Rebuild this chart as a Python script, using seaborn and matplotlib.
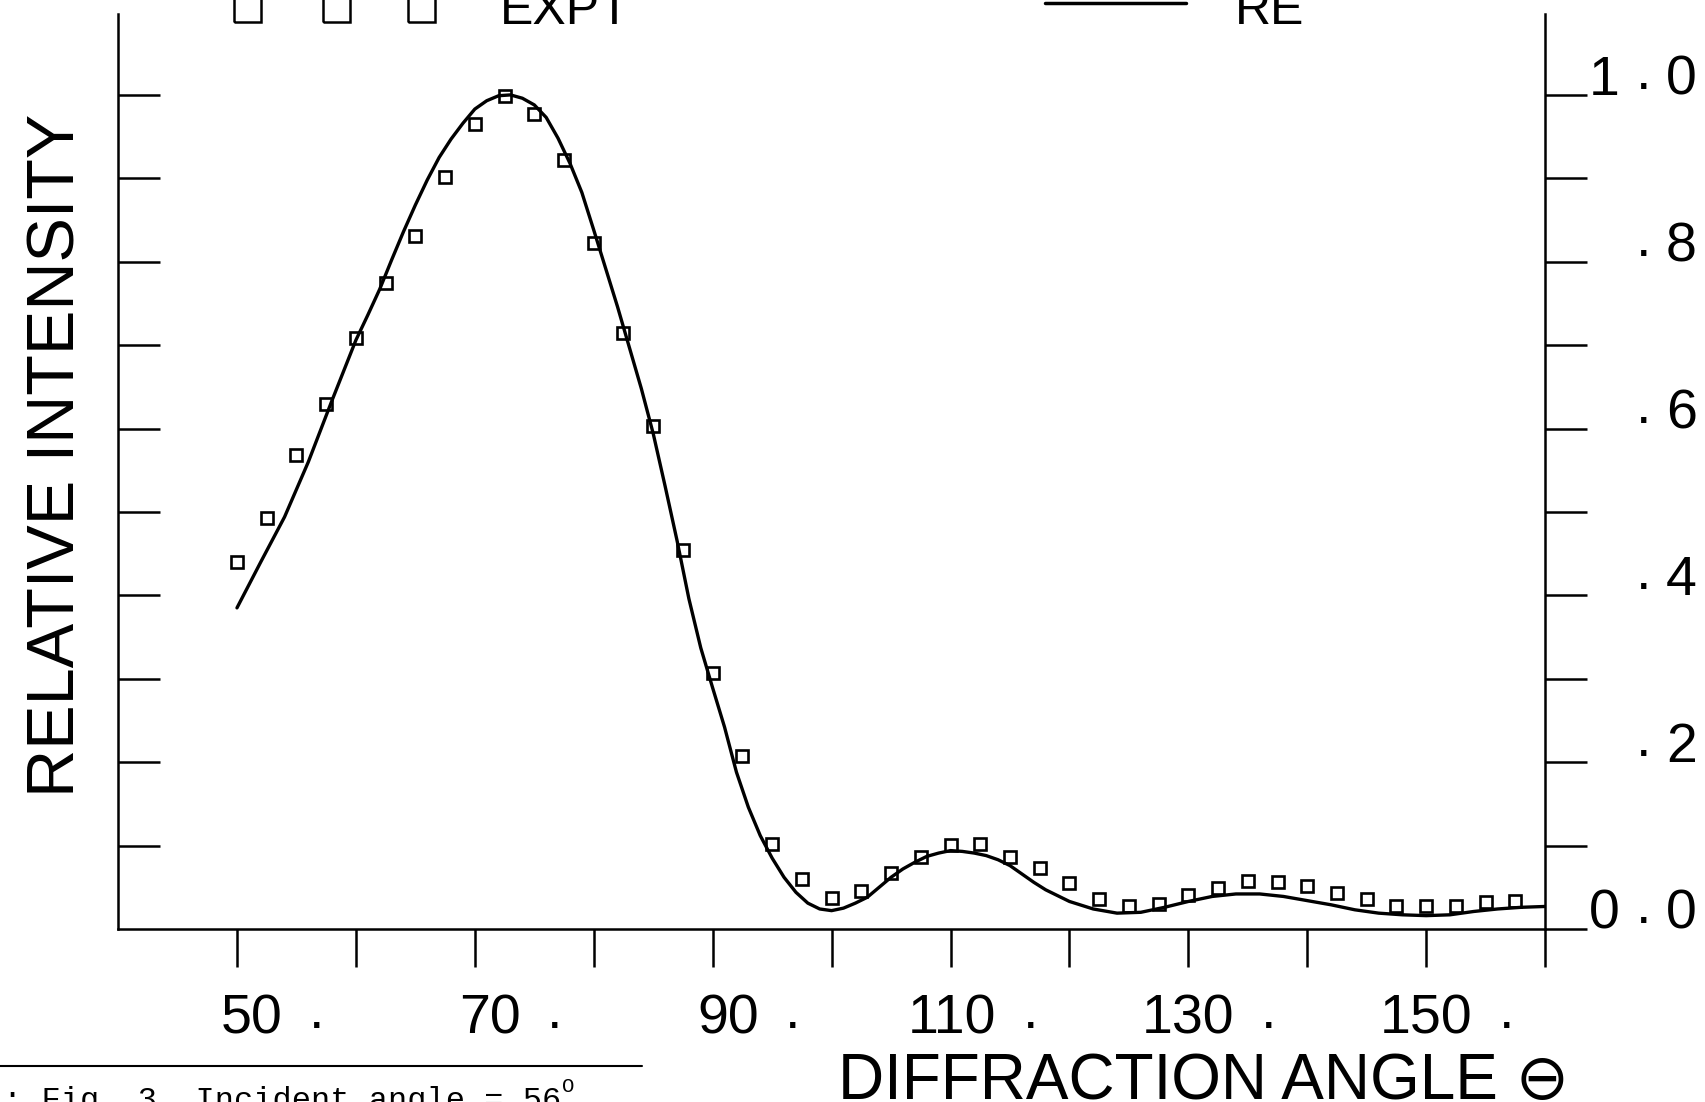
import matplotlib
matplotlib.use('Agg')
import matplotlib.pyplot as plt
import matplotlib.transforms as mtransforms
from matplotlib.lines import Line2D
from matplotlib.patches import Rectangle
import seaborn as sns

# experimental points (open squares)
expt_angle = [50.0, 52.5, 55.0, 57.5, 60.0, 62.5, 65.0, 67.5, 70.0, 72.5, 75.0,
              77.5, 80.0, 82.5, 85.0, 87.5, 90.0, 92.5, 95.0, 97.5, 100.0,
              102.5, 105.0, 107.5, 110.0, 112.5, 115.0, 117.5, 120.0, 122.5,
              125.0, 127.5, 130.0, 132.5, 135.0, 137.5, 140.0, 142.5, 145.0,
              147.5, 150.0, 152.5, 155.0, 157.5]
expt_intensity = [0.440, 0.493, 0.568, 0.629, 0.708, 0.775, 0.831, 0.901, 0.965,
                  0.999, 0.977, 0.922, 0.823, 0.715, 0.603, 0.454, 0.307, 0.207,
                  0.102, 0.060, 0.037, 0.046, 0.067, 0.086, 0.101, 0.102, 0.086,
                  0.073, 0.055, 0.036, 0.028, 0.030, 0.041, 0.049, 0.058, 0.056,
                  0.052, 0.043, 0.036, 0.028, 0.028, 0.027, 0.032, 0.034]

# theory curve (RE)
re_angle = [50, 52, 54, 56, 58, 60, 61, 62, 63, 64, 65, 66, 67, 68, 69, 70, 71,
            72, 73, 74, 75, 76, 77, 78, 79, 80, 81, 82, 83, 84, 85, 86, 87, 88,
            89, 90, 91, 92, 93, 94, 95, 96, 97, 98, 99, 100, 101, 102, 103, 104,
            105, 106, 107, 108, 109, 110, 111, 112, 113, 114, 115, 116, 117, 118,
            120, 122, 124, 126, 128, 130, 132, 134, 136, 138, 140, 142, 144, 146,
            148, 150, 152, 154, 156, 158, 160]
re_intensity = [0.385, 0.440, 0.494, 0.560, 0.634, 0.706, 0.736, 0.767, 0.802,
                0.836, 0.868, 0.898, 0.925, 0.947, 0.966, 0.983, 0.993, 0.999,
                1.000, 0.996, 0.988, 0.973, 0.948, 0.918, 0.883, 0.838, 0.792,
                0.746, 0.697, 0.648, 0.594, 0.531, 0.466, 0.396, 0.337, 0.289,
                0.242, 0.188, 0.146, 0.112, 0.085, 0.062, 0.044, 0.031, 0.024,
                0.022, 0.025, 0.031, 0.038, 0.050, 0.062, 0.072, 0.080, 0.087,
                0.091, 0.094, 0.093, 0.091, 0.088, 0.083, 0.076, 0.066, 0.056,
                0.047, 0.033, 0.024, 0.019, 0.020, 0.026, 0.033, 0.039, 0.042,
                0.042, 0.039, 0.034, 0.029, 0.023, 0.019, 0.017, 0.016, 0.017,
                0.021, 0.024, 0.026, 0.027]

x_ticks = [50, 60, 70, 80, 90, 100, 110, 120, 130, 140, 150, 160]
x_labels = [50, 70, 90, 110, 130, 150]
left_ticks = [0.1, 0.2, 0.3, 0.4, 0.5, 0.6, 0.7, 0.8, 0.9, 1.0]
right_ticks = [0.0, 0.1, 0.2, 0.3, 0.4, 0.5, 0.6, 0.7, 0.8, 0.9, 1.0]
right_label_vals = [0.0, 0.2, 0.4, 0.6, 0.8, 1.0]
right_label_lead = ['0', '', '', '', '', '1']
right_label_tail = ['0', '2', '4', '6', '8', '0']

sns.set_style('white')
plt.rcParams['font.family'] = ['Liberation Sans', 'DejaVu Sans']
plt.rcParams['text.color'] = 'black'
plt.rcParams['axes.labelcolor'] = 'black'

W, H = 1706, 1102
fig = plt.figure(figsize=(W / 100, H / 100), dpi=100)
ax = fig.add_axes([0.0692, 0.157, 0.8365, 0.8303])

sns.lineplot(x=re_angle, y=re_intensity, color='black', lw=2.4, ax=ax)
sns.lineplot(x=expt_angle, y=expt_intensity, linestyle='none', marker='s',
             markersize=8, mfc='none', mec='black', mew=1.9, ax=ax)

ax.set_xlim(40, 160)
ax.set_ylim(0, 1.097)
ax.set_xticks(x_ticks)
ax.set_yticks(left_ticks)
ax.tick_params(axis='x', bottom=True, direction='out', length=27, width=1.8,
               color='black', labelbottom=False)
ax.tick_params(axis='y', left=True, direction='in', length=30, width=1.8,
               color='black', labelleft=False)
for s in ['top', 'right']:
    ax.spines[s].set_visible(False)
for s in ['left', 'bottom']:
    ax.spines[s].set_linewidth(1.8)
    ax.spines[s].set_color('black')

ax2 = ax.twinx()
ax2.set_ylim(0, 1.097)
ax2.set_yticks(right_ticks)
ax2.tick_params(axis='y', right=True, direction='out', length=30, width=1.8,
                color='black', labelright=False)
for s in ['top', 'left', 'bottom']:
    ax2.spines[s].set_visible(False)
ax2.spines['right'].set_linewidth(1.8)
ax2.spines['right'].set_color('black')

# bottom tick labels: digits, then a dot
xlab_tr = mtransforms.blended_transform_factory(ax.transData, fig.transFigure)
digit_tr = mtransforms.offset_copy(xlab_tr, fig=fig, x=46, y=0, units='dots')
dot_tr = mtransforms.offset_copy(xlab_tr, fig=fig, x=80, y=6, units='dots')
for v in x_labels:
    ax.text(v, 1 - 1034 / H, str(v), transform=digit_tr, ha='right', va='baseline',
            fontsize=40, clip_on=False)
    ax.text(v, 1 - 1034 / H, '.', transform=dot_tr, ha='center', va='baseline',
            fontsize=40, clip_on=False)

# right tick labels
ylab_tr = mtransforms.blended_transform_factory(fig.transFigure, ax.transData)
ydot_tr = mtransforms.offset_copy(ylab_tr, fig=fig, x=0, y=6, units='dots')
for v, lead, tail in zip(right_label_vals, right_label_lead, right_label_tail):
    ax.text(1620 / W, v, lead, transform=ylab_tr, ha='right', va='baseline',
            fontsize=40, clip_on=False)
    ax.text(1644 / W, v, '.', transform=ydot_tr, ha='center', va='baseline',
            fontsize=40, clip_on=False)
    ax.text(1697 / W, v, tail, transform=ylab_tr, ha='right', va='baseline',
            fontsize=40, clip_on=False)

ax.set_ylabel('RELATIVE INTENSITY', fontsize=48, va='center')
ax.yaxis.set_label_coords(-0.0425, 0.518)
ax.set_xlabel('DIFFRACTION ANGLE ⊖', fontsize=46, va='center')
ax.xaxis.set_label_coords(0.761, -0.167)

# legend at the top (partly cut off by the page edge)
for x0 in [234, 323, 408]:
    fig.patches.append(Rectangle((x0 / W, 1 - 22 / H), 27 / W, 60 / H, fill=False,
                                 lw=1.8, ec='black', transform=fig.transFigure))
fig.text(500 / W, 1 - 24 / H, 'EXPT', fontsize=36, ha='left', va='baseline')
fig.add_artist(Line2D([1045 / W, 1186 / W], [1 - 3 / H, 1 - 3 / H], color='black',
                      lw=2.5, transform=fig.transFigure))
fig.text(1235 / W, 1 - 24 / H, 'RE', fontsize=36, ha='left', va='baseline')

# caption at the bottom left
fig.add_artist(Line2D([0, 642 / W], [1 - 1066 / H, 1 - 1066 / H], color='black',
                      lw=1.5, transform=fig.transFigure))
cap = fig.text(3 / W, 1 - 1109 / H, ': Fig. 3  Incident angle = 56', fontsize=23,
               family='Liberation Mono', ha='left', va='baseline')
fig.text(562 / W, 1 - 1092 / H, 'O', fontsize=15, family='Liberation Mono',
         ha='left', va='baseline')

fig.savefig('out.png', dpi=100)
